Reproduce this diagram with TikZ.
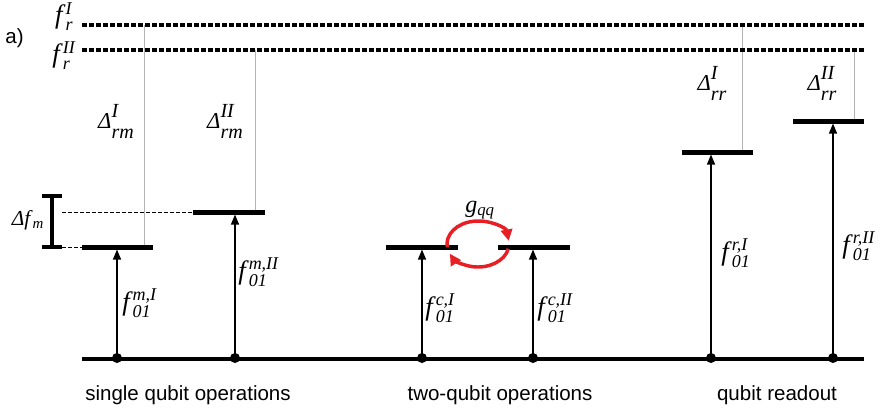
\documentclass[tikz,border=0pt]{standalone}
\usepackage{amsmath}
\usepackage{fontspec}
\setmainfont{Liberation Serif}
\setsansfont{Liberation Sans}
\usetikzlibrary{arrows.meta}

\definecolor{cplred}{RGB}{232,30,36}
\definecolor{guidegray}{RGB}{178,178,178}

% letter with stacked super- and subscript
\newcommand{\flvl}[3]{{\fontsize{20}{20}\selectfont\textit{#1}}%
{\fontsize{13.5}{12.5}\selectfont\begin{tabular}[c]{@{}l@{}}\textit{#2}\\\textit{#3}\end{tabular}}}
\newcommand{\dlvl}[2]{{\fontsize{17}{17}\selectfont\textit{Δ}}%
{\fontsize{15}{15.5}\selectfont\begin{tabular}[c]{@{}l@{}}\textit{#1}\\\textit{#2}\end{tabular}}}

\begin{document}
\begin{tikzpicture}[x=0.75pt,y=0.75pt,yscale=-1,xscale=1,
  lvlbar/.style={line width=3.75pt},
  gndline/.style={line width=3pt},
  trans/.style={line width=1pt,-{Triangle[length=7.5pt,width=6pt]},shorten >=1.9pt},
  guide/.style={guidegray,line width=0.6pt},
  resline/.style={line width=3pt,dash pattern=on 3.75pt off 1.5pt},
  gapdash/.style={line width=0.5pt,dash pattern=on 3pt off 1.5pt},
  xchg/.style={cplred,line width=2.6pt,-{Triangle[length=8.5pt,width=8.5pt]}},
  opname/.style={font=\sffamily\fontsize{15.4}{18}\selectfont,inner sep=0.75pt}]
\useasboundingbox (0,0) rectangle (883,415);

%Straight Lines (guides to resonator)
\draw [guide] (144,25) -- (144,245) ;
\draw [guide] (255,50) -- (255,210) ;
\draw [guide] (742,25) -- (742,150) ;
\draw [guide] (854,50) -- (854,119) ;

%Straight Lines (resonator)
\draw [resline] (82,25) -- (864,25) ;
\draw [resline] (82,50) -- (864,50) ;

%Straight Lines (ground)
\draw [gndline] (82,359) -- (864,359) ;

\coordinate (g1) at (117,358) ; \coordinate (l1) at (117,247) ;
\coordinate (g2) at (235,358) ; \coordinate (l2) at (235,212) ;
\coordinate (g3) at (422,358) ; \coordinate (l3) at (422,247) ;
\coordinate (g4) at (533,358) ; \coordinate (l4) at (533,247) ;
\coordinate (g5) at (711,358) ; \coordinate (l5) at (711,152) ;
\coordinate (g6) at (833,358) ; \coordinate (l6) at (833,121) ;

%Straight Lines (levels)
\draw [lvlbar] (82,247) -- (153,247) ;
\draw [lvlbar] (193,212) -- (265,212) ;
\draw [lvlbar] (386,247) -- (458,247) ;
\draw [lvlbar] (498,247) -- (570,247) ;
\draw [lvlbar] (682,152) -- (753,152) ;
\draw [lvlbar] (793,121) -- (864,121) ;

%Transitions
\foreach \i in {1,...,6}{
  \draw [trans] (g\i) -- (l\i) ;
  \fill (g\i) circle (5) ;
}

%Shape: detuning bracket
\draw [line width=3pt] (52,196) -- (52,247) (42,196) -- (62,196) (42,247) -- (62,247) ;
\draw [gapdash] (62,212) -- (193,212) ;
\draw [gapdash] (62,247) -- (82,247) ;

%Shape: Arc (coupling)
\draw [xchg] (478,244) ++(172:31 and 23) arc [start angle=172,end angle=352,x radius=31,y radius=23] ;
\draw [xchg] (478,244) ++(12:31 and 23) arc [start angle=12,end angle=155,x radius=31,y radius=23] ;

% Text Node
\draw (25,38) node [anchor=east][inner sep=0.75pt] (tag) {\sffamily\fontsize{15.4}{18}\selectfont a)};
% Text Node
\draw (64,19) node [inner sep=0.75pt] (frI) {\flvl{f}{I}{r}};
% Text Node
\draw (64,58) node [inner sep=0.75pt] (frII) {\flvl{f}{II}{r}};
% Text Node
\draw (116,124) node [inner sep=0.75pt] (drmI) {\dlvl{I}{rm}};
% Text Node
\draw (225,124) node [inner sep=0.75pt] (drmII) {\dlvl{II}{rm}};
% Text Node
\draw (712,86) node [inner sep=0.75pt] (drrI) {\dlvl{I}{rr}};
% Text Node
\draw (822,86) node [inner sep=0.75pt] (drrII) {\dlvl{II}{rr}};
% Text Node
\draw (28,220) node [inner sep=0.75pt] (dfm) {\fontsize{16}{16}\selectfont\textit{Δf}\textsubscript{\textit{m}}};
% Text Node
\draw (480,210) node [inner sep=0.75pt] (gqq) {\fontsize{18}{18}\selectfont\textit{g}\textsubscript{\textit{qq}}};
% Text Node
\draw (121,306) node [anchor=west][inner sep=0.75pt] (fmI) {\flvl{f}{m,I}{01}};
% Text Node
\draw (237,275) node [anchor=west][inner sep=0.75pt] (fmII) {\flvl{f}{m,II}{01}};
% Text Node
\draw (424,311) node [anchor=west][inner sep=0.75pt] (fcI) {\flvl{f}{c,I}{01}};
% Text Node
\draw (536,311) node [anchor=west][inner sep=0.75pt] (fcII) {\flvl{f}{c,II}{01}};
% Text Node
\draw (720,256) node [anchor=west][inner sep=0.75pt] (frdI) {\flvl{f}{r,I}{01}};
% Text Node
\draw (841,249) node [anchor=west][inner sep=0.75pt] (frdII) {\flvl{f}{r,II}{01}};
% Text Node
\draw (188,400) node [anchor=base][opname] (single) {single qubit operations};
% Text Node
\draw (500,400) node [anchor=base][opname] (two) {two-qubit operations};
% Text Node
\draw (777,400) node [anchor=base][opname] (readout) {qubit readout};

\end{tikzpicture}
\end{document}
